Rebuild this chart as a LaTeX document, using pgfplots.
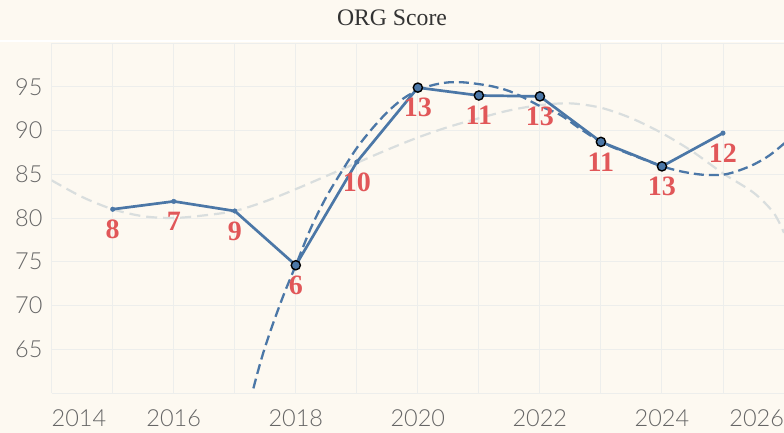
\documentclass[border=0pt]{standalone}
\usepackage{pgfplots}
\pgfplotsset{compat=1.18}
\usepackage{fontspec}
\setmainfont{Liberation Serif}
\newfontfamily\tickfont{Lato Light}
\definecolor{bg}{HTML}{FDF9F1}
\definecolor{gridc}{HTML}{EDEEEC}
\definecolor{tblue}{HTML}{4B77A7}
\definecolor{tred}{HTML}{E15759}
\definecolor{gdash}{HTML}{D9DEDE}
\definecolor{tickc}{HTML}{666666}
\definecolor{titlec}{HTML}{333333}
\begin{document}
\begin{tikzpicture}
\path[use as bounding box, fill=bg] (0,0) rectangle (784bp,433bp);
\fill[white] (0,391bp) rectangle (784bp,393bp);
\node[anchor=base, font=\fontsize{23.7bp}{28bp}\selectfont, text=titlec, inner sep=0pt] at (392bp,407.3bp) {ORG Score};
\begin{axis}[
  at={(51.7bp,40bp)}, anchor=south west, scale only axis,
  width=732.3bp, height=350bp,
  xmin=2014, xmax=2026, ymin=60, ymax=100,
  axis line style={draw=none},
  xtick={2014,...,2026},
  xticklabels={\rlap{2014},,2016,,2018,,2020,,2022,,2024,,\llap{2026}},
  ytick={60,65,...,100},
  yticklabels={,65,70,75,80,85,90,95,},
  major tick length=0pt,
  tick style={draw=none},
  grid=major, grid style={gridc, line width=0.8bp},
  xticklabel style={anchor=north, inner sep=0pt, yshift=-16bp, font=\tickfont\fontsize{23.5bp}{23.5bp}\selectfont, text=tickc},
  yticklabel style={anchor=east, inner sep=0pt, xshift=-9bp, font=\tickfont\fontsize{23.5bp}{23.5bp}\selectfont, text=tickc},
]
\addplot[gdash, line width=2.2bp, dash pattern=on 11bp off 6bp, smooth] coordinates {
(2014,84.3) (2014.5,82.4) (2015,81.0) (2015.5,80.2) (2016,80.0) (2016.5,80.3) (2017,80.8)
(2017.5,81.9) (2018,83.3) (2018.5,84.8) (2019,86.3) (2019.5,87.8) (2020,89.2) (2020.5,90.4)
(2021,91.4) (2021.5,92.3) (2022,92.9) (2022.5,93.1) (2023,92.6) (2023.5,91.4) (2024,89.7)
(2024.5,87.6) (2025,85.1) (2025.5,82.9) (2025.83,80.6) (2026,78.3)
};
\addplot[tblue, line width=2.3bp, dash pattern=on 10bp off 5bp, smooth] coordinates {
(2017.15,55.5) (2017.29,60.1) (2017.45,64.2) (2017.6,67.4) (2017.8,71.2) (2018.0,74.6)
(2018.25,78.9) (2018.5,82.4) (2018.75,85.3) (2019.0,88.0) (2019.25,90.2) (2019.5,92.1)
(2019.75,93.6) (2020.0,94.6) (2020.25,95.2) (2020.5,95.5) (2020.75,95.5) (2021.0,95.3)
(2021.25,95.0) (2021.5,94.5) (2021.75,93.7) (2022.0,92.8) (2022.33,91.8) (2022.66,90.2)
(2023.0,88.7) (2023.33,87.7) (2023.66,86.8) (2024.0,85.9) (2024.33,85.3) (2024.66,84.95)
(2025.0,84.95) (2025.25,85.4) (2025.5,86.1) (2025.75,87.1) (2026.0,88.5) (2026.1,89.2)
};
\addplot[tblue, line width=2.7bp] coordinates {
(2015,81.0) (2016,81.9) (2017,80.8) (2018,74.6) (2019,86.4) (2020,94.9)
(2021,94.0) (2022,93.9) (2023,88.7) (2024,85.9) (2025,89.7)
};
\addplot[only marks, mark=*, mark size=2.3bp, tblue, mark options={draw=tblue, fill=tblue}] coordinates {
(2015,81.0) (2016,81.9) (2017,80.8) (2019,86.4) (2025,89.7)
};
\addplot[only marks, mark=*, mark size=4.6bp, mark options={draw=black, fill=tblue, line width=1.4bp}] coordinates {
(2018,74.6) (2020,94.9) (2021,94.0) (2022,93.9) (2023,88.7) (2024,85.9)
};
\addplot[draw=none, mark=none, nodes near coords, point meta=explicit symbolic,
  nodes near coords style={anchor=center, inner sep=0pt, yshift=-20bp, text=tred,
  font=\bfseries\fontsize{28bp}{28bp}\selectfont}] table[meta=l] {
x y l
2015 81.0 8
2016 81.9 7
2017 80.8 9
2018 74.6 6
2019 86.4 10
2020 94.9 13
2021 94.0 11
2022 93.9 13
2023 88.7 11
2024 85.9 13
2025 89.7 12
};
\end{axis}
\end{tikzpicture}
\end{document}
